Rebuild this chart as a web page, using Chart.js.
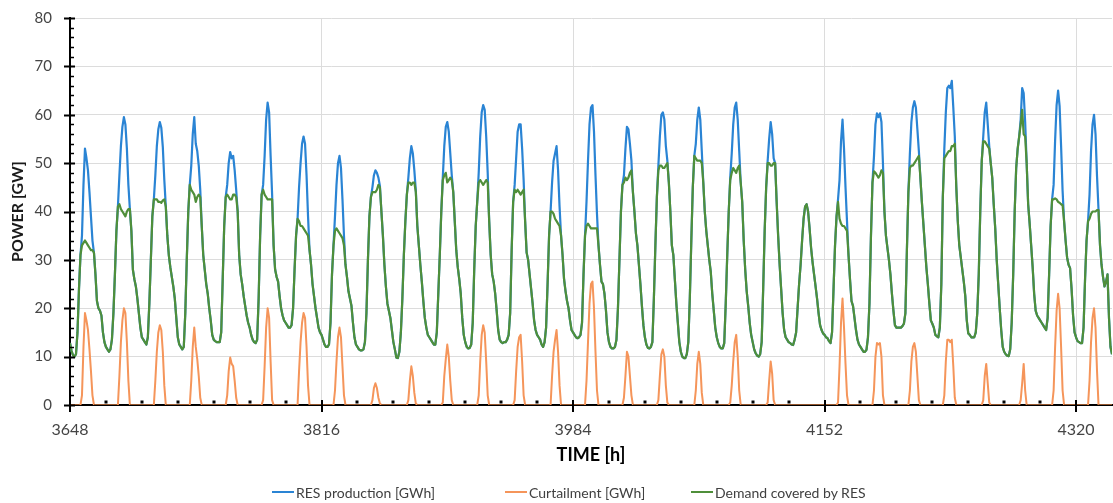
<!DOCTYPE html>
<html lang="en">
<head>
    <meta charset="UTF-8">
    <meta name="viewport" content="width=device-width, initial-scale=1.0">
    <title>RES production, curtailment and demand covered</title>
    <style>
        * {
            margin: 0;
            padding: 0;
            box-sizing: border-box;
        }

        body {
            background: #fff;
            font-family: Lato, "Open Sans", sans-serif;
        }

        .chart-box {
            position: relative;
            width: 1113px;
            height: 503px;
        }

        #powerChart {
            display: block;
        }

        #legend {
            position: absolute;
            left: 0;
            top: 483px;
            width: 100%;
            height: 18px;
            font-size: 14px;
            color: #404040;
        }

        .legend-item {
            position: absolute;
            top: 0;
            height: 18px;
            display: inline-flex;
            align-items: center;
            white-space: nowrap;
        }

        .legend-line {
            width: 22px;
            height: 2px;
            margin-right: 2px;
        }
    </style>
</head>
<body>
    <div class="chart-box">
        <canvas id="powerChart" width="1113" height="503"></canvas>
        <div id="legend"></div>
    </div>

    <script src="https://cdn.jsdelivr.net/npm/chart.js"></script>

    <script>
        // hourly series, first value is hour 3648, one row per day (24 h), last value is hour 4344
        const START_HOUR = 3648;
        const END_HOUR = 4344;

        const xTickLabels = [3648, 3816, 3984, 4152, 4320];
        const yTickLabels = [0, 10, 20, 30, 40, 50, 60, 70, 80];
        const seriesNames = ['RES production [GWh]', 'Curtailment [GWh]', 'Demand covered by RES'];
        const lineColors = ['#2a84d4', '#f5955a', '#4f8f3a'];
        const legendLeft = [272, 505, 691];

        const resProduction = [
            12.8, 11.2, 10.3, 10, 10.5, 15, 24, 31, 35, 45.5, 53, 51, 48.5, 44, 39, 34, 31.5, 27, 21.5, 20, 19.5, 18.5, 15, 13,
            12, 11.5, 11, 11.5, 13.5, 19, 27, 36, 41, 47.5, 53.5, 57.5, 59.5, 58, 53, 45.5, 40.5, 36, 28, 26, 24.5, 22, 19, 16,
            14, 13.5, 13, 12.5, 14, 21, 30, 39, 42.5, 47.5, 53.5, 57, 58.5, 57.3, 53.3, 46.5, 41, 35, 31, 28.5, 26.5, 24.5, 22, 18,
            14, 12.5, 12, 11.5, 12, 19, 30, 40, 45.5, 49.5, 56, 59.5, 54, 52.5, 49.5, 44.5, 37, 31, 28, 25, 23, 20, 17.5, 14.5,
            13.5, 13.2, 13, 13, 13, 15, 26, 37, 43, 45.5, 50, 52.3, 51, 51.5, 48.5, 44.5, 40, 31, 27, 25, 22.5, 20.5, 18.5, 17,
            16, 14.5, 13.5, 13, 12.8, 13.5, 22, 35, 43.5, 45.5, 51.5, 59, 62.5, 60.5, 51.5, 43.5, 33, 28, 26.5, 25.5, 22.5, 20, 18.5, 17.5,
            17, 16.5, 16, 16, 16.5, 20, 28, 35, 38.5, 45, 50, 54, 55.5, 54, 47.5, 39, 32, 29, 25, 22.5, 20, 18, 16, 15,
            14.5, 13.5, 12.5, 12, 12, 12.5, 17, 27, 33, 39, 45.5, 50, 51.5, 49, 42.5, 35, 29, 26.5, 23.5, 22, 20.5, 17, 14, 12.5,
            12, 11.5, 11.3, 11.3, 11.5, 13, 19, 30, 39, 43, 45, 47.5, 48.5, 48, 47, 45.3, 40, 35, 29, 24.5, 21, 19.5, 18, 15.5,
            13, 11.5, 9.8, 9.7, 11, 15, 22, 31, 38, 43.5, 47, 51, 53.5, 52, 48.5, 44.3, 37, 33, 29, 25.5, 21.5, 18, 16, 14.5,
            14, 13.5, 13, 12.5, 12.5, 15, 23, 31, 40, 47, 53.5, 57.5, 58.5, 56.5, 52, 47.5, 44, 38, 32, 28.5, 26, 23, 18, 14.5,
            13, 12, 11.7, 11.8, 12.5, 17, 28, 37, 42, 48, 55.5, 60.5, 62, 61, 55.5, 48, 38, 31, 27, 25.5, 23, 19.5, 15.5, 13.5,
            13, 12.8, 13, 13, 13.5, 14.5, 19, 32, 42, 45.5, 51, 56.5, 58, 58, 53, 46.5, 38, 31.5, 30, 27, 24, 21, 17.5, 15.5,
            14.5, 14, 13.5, 12.5, 12, 13, 16, 25, 35, 40, 46, 50.5, 52, 53.5, 48.5, 41, 35, 31, 26, 23.5, 21.5, 20, 17.5, 15.5,
            15, 14.5, 14, 13.8, 14, 14.5, 17, 27, 35, 42, 50.5, 58, 61.5, 62, 56.5, 47.5, 39.5, 33, 29, 25.5, 25, 23, 19.5, 15,
            13, 12, 11.7, 11.7, 12, 13.5, 20, 30, 40, 45.5, 47.5, 53, 57.5, 57, 54, 50.5, 44, 40, 35.5, 33, 29, 25, 20.5, 16.5,
            14, 12.5, 11.8, 11.7, 12, 13, 22, 33, 43, 49.5, 55.5, 60, 60.5, 59, 53.5, 50.5, 46, 40, 33, 31, 26, 21, 17, 13,
            11, 10, 9.7, 9.7, 10.5, 13, 22, 34, 45, 51.5, 54, 59, 61.5, 59, 52.5, 46, 40, 36, 33, 30, 27.5, 23, 19.5, 16,
            14, 12.8, 12, 11.7, 11.7, 12.8, 21, 31, 40, 47, 52, 58, 61.5, 62.5, 59, 52.5, 46, 42, 34, 28, 23.5, 20.5, 17, 14.5,
            13, 11.5, 10.7, 10.2, 10, 10.5, 13, 24, 36, 45, 50.5, 55, 58.5, 56, 51, 50, 42, 35, 29, 24, 19, 15.5, 14, 13.5,
            13, 12.8, 12.5, 12.4, 13.5, 15, 20, 25, 29, 34, 38.5, 41, 41.5, 40, 36.5, 32.5, 29.5, 27, 24.5, 22, 19, 16.5, 15.5, 14.8,
            14.5, 14, 13.8, 13.2, 12.8, 15, 24, 33, 39, 42.5, 46.5, 54.5, 59, 53, 45, 38, 31, 26, 21.5, 20.5, 18, 15.5, 13.5, 12.5,
            12, 11.5, 11, 11, 11.4, 14, 21, 35, 46, 51.3, 58, 60.3, 59.5, 60.3, 58.5, 50, 40, 35, 32.5, 30, 27, 23, 19.5, 16.5,
            16, 16, 16, 16, 16.3, 16.8, 19, 32, 44, 52, 58.5, 61.5, 62.8, 61.5, 57, 52.5, 47, 42, 37.5, 33, 28.5, 25, 21, 17.5,
            16.8, 16, 14.5, 14.2, 14, 16, 25, 43, 53, 60.5, 65.5, 66, 65.5, 67, 61.5, 55.5, 45, 38, 33, 30.5, 28, 25.5, 22.5, 17.5,
            14.8, 14.5, 14, 14, 14, 15, 19, 27, 40, 50.5, 55.5, 60.5, 62.5, 58, 53.5, 50, 47, 41.5, 36.5, 30, 25, 20, 15.5, 12,
            11, 10.5, 10.2, 10.1, 11.5, 17, 27, 40, 49, 53, 55.5, 59, 65.5, 64.5, 58.5, 50, 41.5, 37.5, 33, 28.5, 23, 19.5, 18.5, 18,
            17.5, 17, 16.5, 16, 15.5, 18, 27, 37, 42.5, 45.5, 54.7, 62, 65, 61.8, 53.5, 44.3, 38, 34, 30.5, 29, 28.3, 24, 18.5, 15,
            14, 13.2, 13, 12.8, 12.8, 16, 26, 34, 38, 43.5, 52.5, 58, 60, 56, 47.3, 40.3, 33, 29, 26.5, 24.5, 25.5, 27, 18, 12,
            10.5
        ];

        const curtailment = [
            0, 0, 0, 0, 0, 0, 0, 0, 2, 12, 19, 17.5, 15.5, 11.5, 7, 2, 0, 0, 0, 0, 0, 0, 0, 0,
            0, 0, 0, 0, 0, 0, 0, 0, 0, 6, 13, 17.5, 20, 19, 13, 5, 0, 0, 0, 0, 0, 0, 0, 0,
            0, 0, 0, 0, 0, 0, 0, 0, 0, 5, 11, 15, 16.5, 15.5, 11, 4, 0, 0, 0, 0, 0, 0, 0, 0,
            0, 0, 0, 0, 0, 0, 0, 0, 0, 5, 12, 16, 12, 9.5, 6, 1.5, 0, 0, 0, 0, 0, 0, 0, 0,
            0, 0, 0, 0, 0, 0, 0, 0, 0, 2, 7, 9.8, 8.5, 8, 5, 1.5, 0, 0, 0, 0, 0, 0, 0, 0,
            0, 0, 0, 0, 0, 0, 0, 0, 0, 1, 8, 16, 20, 18, 9, 1, 0, 0, 0, 0, 0, 0, 0, 0,
            0, 0, 0, 0, 0, 0, 0, 0, 0, 7, 13, 17, 19, 18, 12, 4, 0, 0, 0, 0, 0, 0, 0, 0,
            0, 0, 0, 0, 0, 0, 0, 0, 0, 3, 9, 14, 16, 14, 8, 2, 0, 0, 0, 0, 0, 0, 0, 0,
            0, 0, 0, 0, 0, 0, 0, 0, 0, 0, 1, 3.5, 4.5, 3.5, 1.5, 0.3, 0, 0, 0, 0, 0, 0, 0, 0,
            0, 0, 0, 0, 0, 0, 0, 0, 0, 0, 1, 5, 8, 6, 2.5, 0.3, 0, 0, 0, 0, 0, 0, 0, 0,
            0, 0, 0, 0, 0, 0, 0, 0, 0, 0.5, 6, 9.5, 12.5, 10, 5, 1, 0, 0, 0, 0, 0, 0, 0, 0,
            0, 0, 0, 0, 0, 0, 0, 0, 0, 2, 9, 14.5, 16.5, 15, 9, 2, 0, 0, 0, 0, 0, 0, 0, 0,
            0, 0, 0, 0, 0, 0, 0, 0, 0, 1, 7, 12, 14, 14.5, 9, 2, 0, 0, 0, 0, 0, 0, 0, 0,
            0, 0, 0, 0, 0, 0, 0, 0, 0, 0, 6, 11, 13.5, 15.5, 11, 4, 0, 0, 0, 0, 0, 0, 0, 0,
            0, 0, 0, 0, 0, 0, 0, 0, 0, 5, 13, 21, 25, 25.5, 20, 11, 3, 0, 0, 0, 0, 0, 0, 0,
            0, 0, 0, 0, 0, 0, 0, 0, 0, 0, 1.5, 6, 11, 10, 6, 2, 0, 0, 0, 0, 0, 0, 0, 0,
            0, 0, 0, 0, 0, 0, 0, 0, 0, 1, 6, 10.5, 11.5, 10, 4, 0.5, 0, 0, 0, 0, 0, 0, 0, 0,
            0, 0, 0, 0, 0, 0, 0, 0, 0, 0, 3, 8.5, 11, 8.5, 2.5, 0, 0, 0, 0, 0, 0, 0, 0, 0,
            0, 0, 0, 0, 0, 0, 0, 0, 0, 0.5, 4, 9, 13, 14.5, 10, 3, 0, 0, 0, 0, 0, 0, 0, 0,
            0, 0, 0, 0, 0, 0, 0, 0, 0, 0, 0.5, 5, 9, 6.5, 1, 0, 0, 0, 0, 0, 0, 0, 0, 0,
            0, 0, 0, 0, 0, 0, 0, 0, 0, 0, 0, 0, 0, 0, 0, 0, 0, 0, 0, 0, 0, 0, 0, 0,
            0, 0, 0, 0, 0, 0, 0, 0, 0, 0.5, 8, 17, 22, 16, 8.5, 2, 0, 0, 0, 0, 0, 0, 0, 0,
            0, 0, 0, 0, 0, 0, 0, 0, 0, 3, 10, 12.8, 12.5, 12.8, 10, 2, 0, 0, 0, 0, 0, 0, 0, 0,
            0, 0, 0, 0, 0, 0, 0, 0, 0, 3, 9, 12, 12.8, 11, 6, 1, 0, 0, 0, 0, 0, 0, 0, 0,
            0, 0, 0, 0, 0, 0, 0, 0, 2, 9, 13.5, 13.5, 13, 13.5, 8, 1.5, 0, 0, 0, 0, 0, 0, 0, 0,
            0, 0, 0, 0, 0, 0, 0, 0, 0, 0, 1, 6, 8.5, 4.5, 0.5, 0, 0, 0, 0, 0, 0, 0, 0, 0,
            0, 0, 0, 0, 0, 0, 0, 0, 0, 0, 0, 1, 4.5, 8.5, 3, 0, 0, 0, 0, 0, 0, 0, 0, 0,
            0, 0, 0, 0, 0, 0, 0, 0, 0, 3, 12, 19.5, 23, 20, 12, 3, 0, 0, 0, 0, 0, 0, 0, 0,
            0, 0, 0, 0, 0, 0, 0, 0, 0, 5, 13, 18, 20, 16, 7, 0, 0, 0, 0, 0, 0, 0, 0, 0,
            0
        ];

        const demandCovered = [
            12.8, 11.2, 10.3, 10, 10.5, 15, 24, 31, 33, 33.5, 34, 33.5, 33, 32.5, 32, 32, 31.5, 27, 21.5, 20, 19.5, 18.5, 15, 13,
            12, 11.5, 11, 11.5, 13.5, 19, 27, 36, 41, 41.5, 40.5, 40, 39.5, 39, 40, 40.5, 40.5, 36, 28, 26, 24.5, 22, 19, 16,
            14, 13.5, 13, 12.5, 14, 21, 30, 39, 42.5, 42.5, 42.5, 42, 42, 41.8, 42.3, 42.5, 41, 35, 31, 28.5, 26.5, 24.5, 22, 18,
            14, 12.5, 12, 11.5, 12, 19, 30, 40, 45.5, 44.5, 44, 43.5, 42, 43, 43.5, 43, 37, 31, 28, 25, 23, 20, 17.5, 14.5,
            13.5, 13.2, 13, 13, 13, 15, 26, 37, 43, 43.5, 43, 42.5, 42.5, 43.5, 43.5, 43, 40, 31, 27, 25, 22.5, 20.5, 18.5, 17,
            16, 14.5, 13.5, 13, 12.8, 13.5, 22, 35, 43.5, 44.5, 43.5, 43, 42.5, 42.5, 42.5, 42.5, 33, 28, 26.5, 25.5, 22.5, 20, 18.5, 17.5,
            17, 16.5, 16, 16, 16.5, 20, 28, 35, 38.5, 38, 37, 37, 36.5, 36, 35.5, 35, 32, 29, 25, 22.5, 20, 18, 16, 15,
            14.5, 13.5, 12.5, 12, 12, 12.5, 17, 27, 33, 36, 36.5, 36, 35.5, 35, 34.5, 33, 29, 26.5, 23.5, 22, 20.5, 17, 14, 12.5,
            12, 11.5, 11.3, 11.3, 11.5, 13, 19, 30, 39, 43, 44, 44, 44, 44.5, 45.5, 45, 40, 35, 29, 24.5, 21, 19.5, 18, 15.5,
            13, 11.5, 9.8, 9.7, 11, 15, 22, 31, 38, 43.5, 46, 46, 45.5, 46, 46, 44, 37, 33, 29, 25.5, 21.5, 18, 16, 14.5,
            14, 13.5, 13, 12.5, 12.5, 15, 23, 31, 40, 46.5, 47.5, 48, 46, 46.5, 47, 46.5, 44, 38, 32, 28.5, 26, 23, 18, 14.5,
            13, 12, 11.7, 11.8, 12.5, 17, 28, 37, 42, 46, 46.5, 46, 45.5, 46, 46.5, 46, 38, 31, 27, 25.5, 23, 19.5, 15.5, 13.5,
            13, 12.8, 13, 13, 13.5, 14.5, 19, 32, 42, 44.5, 44, 44.5, 44, 43.5, 44, 44.5, 38, 31.5, 30, 27, 24, 21, 17.5, 15.5,
            14.5, 14, 13.5, 12.5, 12, 13, 16, 25, 35, 40, 40, 39.5, 38.5, 38, 37.5, 37, 35, 31, 26, 23.5, 21.5, 20, 17.5, 15.5,
            15, 14.5, 14, 13.8, 14, 14.5, 17, 27, 35, 37, 37.5, 37, 36.5, 36.5, 36.5, 36.5, 36.5, 33, 29, 25.5, 25, 23, 19.5, 15,
            13, 12, 11.7, 11.7, 12, 13.5, 20, 30, 40, 45.5, 46, 47, 46.5, 47, 48, 48.5, 44, 40, 35.5, 33, 29, 25, 20.5, 16.5,
            14, 12.5, 11.8, 11.7, 12, 13, 22, 33, 43, 48.5, 49.5, 49.5, 49, 49, 49.5, 50, 46, 40, 33, 31, 26, 21, 17, 13,
            11, 10, 9.7, 9.7, 10.5, 13, 22, 34, 45, 51.5, 51, 50.5, 50.5, 50.5, 50, 46, 40, 36, 33, 30, 27.5, 23, 19.5, 16,
            14, 12.8, 12, 11.7, 11.7, 12.8, 21, 31, 40, 46.5, 48, 49, 48.5, 48, 49, 49.5, 46, 42, 34, 28, 23.5, 20.5, 17, 14.5,
            13, 11.5, 10.7, 10.2, 10, 10.5, 13, 24, 36, 45, 50, 50, 49.5, 49.5, 50, 50, 42, 35, 29, 24, 19, 15.5, 14, 13.5,
            13, 12.8, 12.5, 12.4, 13.5, 15, 20, 25, 29, 34, 38.5, 41, 41.5, 40, 36.5, 32.5, 29.5, 27, 24.5, 22, 19, 16.5, 15.5, 14.8,
            14.5, 14, 13.8, 13.2, 12.8, 15, 24, 33, 39, 42, 38.5, 37.5, 37, 37, 36.5, 36, 31, 26, 21.5, 20.5, 18, 15.5, 13.5, 12.5,
            12, 11.5, 11, 11, 11.4, 14, 21, 35, 46, 48.3, 48, 47.5, 47, 47.5, 48.5, 48, 40, 35, 32.5, 30, 27, 23, 19.5, 16.5,
            16, 16, 16, 16, 16.3, 16.8, 19, 32, 44, 49, 49.5, 49.5, 50, 50.5, 51, 51.5, 47, 42, 37.5, 33, 28.5, 25, 21, 17.5,
            16.8, 16, 14.5, 14.2, 14, 16, 25, 43, 51, 51.5, 52, 52.5, 52.5, 53.5, 53.5, 54, 45, 38, 33, 30.5, 28, 25.5, 22.5, 17.5,
            14.8, 14.5, 14, 14, 14, 15, 19, 27, 40, 50.5, 54.5, 54.5, 54, 53.5, 53, 50, 47, 41.5, 36.5, 30, 25, 20, 15.5, 12,
            11, 10.5, 10.2, 10.1, 11.5, 17, 27, 40, 49, 53, 55.5, 58, 61, 56, 55.5, 50, 41.5, 37.5, 33, 28.5, 23, 19.5, 18.5, 18,
            17.5, 17, 16.5, 16, 15.5, 18, 27, 37, 42.5, 42.5, 42.7, 42.5, 42, 41.8, 41.5, 41.3, 38, 34, 30.5, 29, 28.3, 24, 18.5, 15,
            14, 13.2, 13, 12.8, 12.8, 16, 26, 34, 38, 38.5, 39.5, 40, 40, 40, 40.3, 40.3, 33, 29, 26.5, 24.5, 25.5, 27, 18, 12,
            10.5
        ];

        Chart.defaults.font.family = 'Lato, "Open Sans", sans-serif';

        function toPoints(values) {
            return values.map((v, i) => ({ x: START_HOUR + i, y: v }));
        }

        // Excel style tick marks: crossing major ticks, small minor ticks, day markers on the time axis
        const axisMarks = {
            id: 'axisMarks',
            afterDatasetsDraw(chart) {
                const { ctx, chartArea, scales } = chart;
                const left = chartArea.left;
                const bottom = chartArea.bottom;
                ctx.save();
                ctx.strokeStyle = '#000';
                ctx.fillStyle = '#000';

                scales.y.ticks.forEach(t => {
                    const py = Math.round(scales.y.getPixelForValue(t.value)) + 0.5;
                    const major = yTickLabels.includes(t.value);
                    ctx.lineWidth = major ? 2 : 1.5;
                    ctx.beginPath();
                    ctx.moveTo(left - (major ? 6 : 1), py);
                    ctx.lineTo(left + (major ? 5 : 4), py);
                    ctx.stroke();
                });

                scales.x.ticks.forEach(t => {
                    const px = Math.round(scales.x.getPixelForValue(t.value));
                    if (xTickLabels.includes(t.value)) {
                        ctx.lineWidth = 2;
                        ctx.beginPath();
                        ctx.moveTo(px, bottom - 5);
                        ctx.lineTo(px, bottom + 7);
                        ctx.stroke();
                    } else if (t.value < END_HOUR) {
                        ctx.fillRect(px - 1.5, bottom - 4.5, 3, 3);
                    }
                });
                ctx.restore();
            }
        };

        const chart = new Chart(document.getElementById('powerChart'), {
            type: 'line',
            data: {
                datasets: [
                    {
                        label: seriesNames[0],
                        data: toPoints(resProduction),
                        borderColor: lineColors[0],
                        borderWidth: 2.2,
                        order: 3
                    },
                    {
                        label: seriesNames[1],
                        data: toPoints(curtailment),
                        borderColor: lineColors[1],
                        borderWidth: 2,
                        order: 1,
                        segment: {
                            borderColor: ctx => (ctx.p0.parsed.y === 0 && ctx.p1.parsed.y === 0) ? '#93562e' : undefined
                        }
                    },
                    {
                        label: seriesNames[2],
                        data: toPoints(demandCovered),
                        borderColor: lineColors[2],
                        borderWidth: 2.2,
                        order: 2
                    }
                ]
            },
            options: {
                responsive: false,
                animation: false,
                elements: {
                    point: { radius: 0 },
                    line: { tension: 0, borderJoinStyle: 'round' }
                },
                layout: {
                    padding: { top: 18, right: 1, bottom: 0, left: 0 }
                },
                plugins: {
                    legend: { display: false },
                    tooltip: { enabled: false }
                },
                scales: {
                    x: {
                        type: 'linear',
                        min: START_HOUR,
                        max: END_HOUR,
                        afterFit: scale => {
                            scale.height = 98;
                            scale.paddingLeft = 0;
                            scale.paddingRight = 0;
                        },
                        ticks: {
                            stepSize: 24,
                            maxTicksLimit: 1000,
                            autoSkip: false,
                            maxRotation: 0,
                            padding: 15,
                            color: '#454545',
                            font: { size: 16 },
                            callback: v => xTickLabels.includes(v) ? String(v) : ''
                        },
                        grid: {
                            drawTicks: false,
                            lineWidth: 1,
                            color: ctx => (ctx.tick && xTickLabels.includes(ctx.tick.value) && ctx.tick.value !== START_HOUR) ? '#dcdcdc' : 'rgba(0,0,0,0)'
                        },
                        border: { color: '#000', width: 2 },
                        title: {
                            display: true,
                            text: 'TIME [h]',
                            color: '#000',
                            font: { size: 18, weight: 'bold' },
                            padding: { top: 0, bottom: 37 }
                        }
                    },
                    y: {
                        min: 0,
                        max: 80,
                        afterFit: scale => {
                            scale.width = 70;
                            scale.paddingTop = 0;
                            scale.paddingBottom = 0;
                        },
                        ticks: {
                            stepSize: 2,
                            maxTicksLimit: 1000,
                            autoSkip: false,
                            padding: 18,
                            color: '#454545',
                            font: { size: 15 },
                            callback: v => yTickLabels.includes(v) ? String(v) : ''
                        },
                        grid: {
                            drawTicks: false,
                            lineWidth: 1,
                            color: ctx => (ctx.tick && yTickLabels.includes(ctx.tick.value) && ctx.tick.value > 0) ? '#dcdcdc' : 'rgba(0,0,0,0)'
                        },
                        border: { color: '#000', width: 2 },
                        title: {
                            display: true,
                            text: 'POWER [GW]',
                            color: '#1a1a1a',
                            font: { size: 16, weight: 'bold' },
                            padding: { top: 8, bottom: 0 }
                        }
                    }
                }
            },
            plugins: [axisMarks]
        });

        // legend below the plot, same order as in the original
        const legend = document.getElementById('legend');
        legend.innerHTML = seriesNames.map((name, i) => `
            <span class="legend-item" style="left: ${legendLeft[i]}px;">
                <span class="legend-line" style="background: ${lineColors[i]};"></span>${name}
            </span>`).join('');
    </script>
</body>
</html>
